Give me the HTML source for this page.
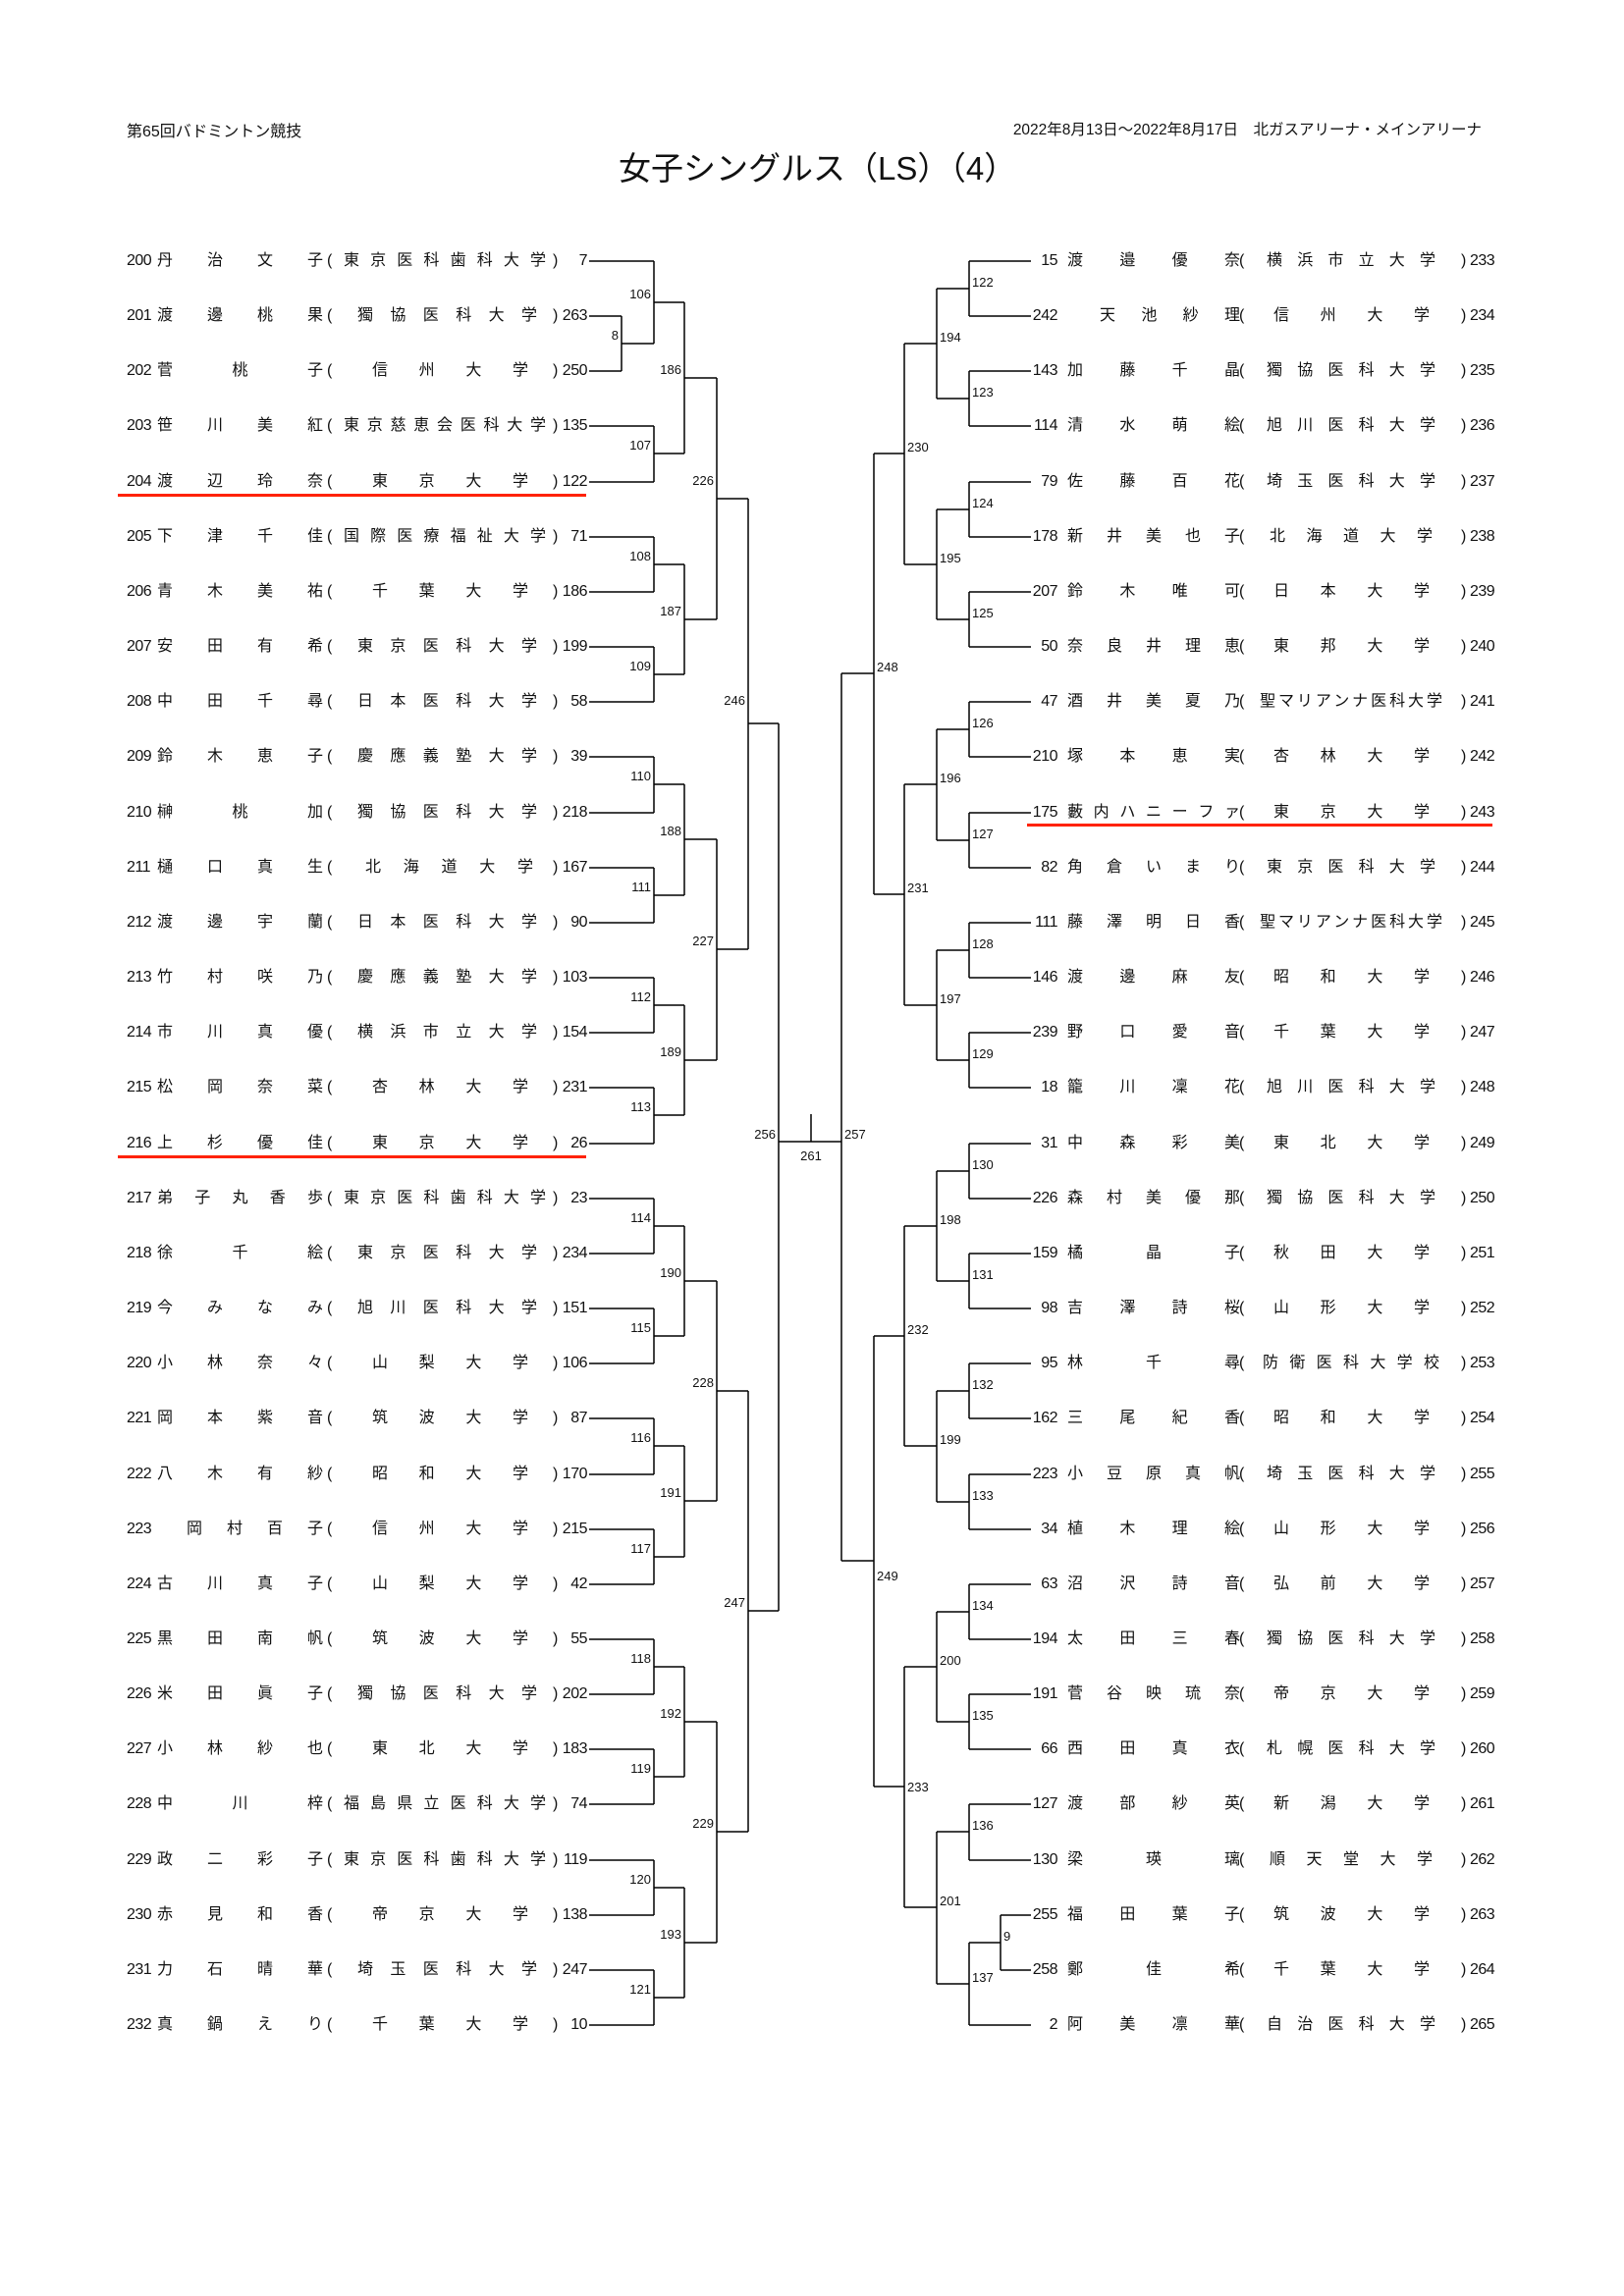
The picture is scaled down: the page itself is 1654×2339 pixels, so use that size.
<!DOCTYPE html>
<html><head><meta charset="utf-8">
<style>
html,body{margin:0;padding:0;background:#fff}
body{width:1654px;height:2339px;position:relative;overflow:hidden;font-family:"Liberation Sans","Noto Sans CJK JP",sans-serif;color:#111}
.r{position:absolute;left:0;width:1654px;height:20px;font-size:16px;line-height:20px}
.r b{position:absolute;top:0;font-weight:normal;display:block;white-space:nowrap}
.a{left:129px}
.n,.N{text-align:justify;text-align-last:justify;white-space:normal!important}
.n{left:160px;width:169px}
.o{left:333px}
.s,.S{text-align:justify;text-align-last:justify;white-space:normal!important;box-sizing:border-box}
.s{left:350px;width:206px}
.c{left:563px}
.d{left:560px;width:38px;text-align:right;letter-spacing:-0.5px}
.a,.A{letter-spacing:-0.5px}
.s.q4{padding:0 18px 0 29px}.s.q5{padding:0 13px 0 22px}.s.q6{padding:0 9px 0 14px}.s.q7{padding:0 4px 0 7px}
.A{left:1037px;width:40px;text-align:right}
.N{left:1087px;width:176px}
.O{left:1262px}
.S{left:1283px;width:186px}
.S.q4{padding:0 13px 0 14px}.S.q5{padding:0 10px 0 10px}.S.q6{padding:0 7px 0 7px}.S.q7{padding:0 3px 0 3px}
.C{left:1488px}
.D{left:1497px;letter-spacing:-0.5px}
.h1{position:absolute;left:129px;top:120px;font-size:16px}
.h2{position:absolute;left:907px;top:120px;font-size:15.5px;width:602px;text-align:right;white-space:nowrap}
.t{position:absolute;left:630px;top:145px;font-size:33px;white-space:nowrap}
.red{position:absolute;height:3px;background:#ff2200}
</style></head><body>
<div class="h1">第65回バドミントン競技</div>
<div class="h2">2022年8月13日～2022年8月17日　北ガスアリーナ・メインアリーナ</div>
<div class="t">女子シングルス（LS）（4）</div>

<svg width="1654" height="2339" style="position:absolute;left:0;top:0" xmlns="http://www.w3.org/2000/svg">
<g stroke="#000" stroke-width="1.5" fill="none">
<path d="M600 266H666 M600 322H633 M600 378H633 M600 434H666 M600 491H666 M600 547H666 M600 603H666 M600 659H666 M600 715H666 M600 771H666 M600 828H666 M600 884H666 M600 940H666 M600 996H666 M600 1052H666 M600 1108H666 M600 1165H666 M600 1221H666 M600 1277H666 M600 1333H666 M600 1389H666 M600 1445H666 M600 1502H666 M600 1558H666 M600 1614H666 M600 1670H666 M600 1726H666 M600 1782H666 M600 1838H666 M600 1895H666 M600 1951H666 M600 2007H666 M600 2063H666"/>
<path d="M633 322V378 M633 350H666 M666 266V350 M666 308H697
M666 434V491 M666 462H697 M666 547V603 M666 575H697 M666 659V715 M666 687H697 M666 771V828 M666 799H697 M666 884V940 M666 912H697 M666 996V1052 M666 1024H697 M666 1108V1165 M666 1136H697 M666 1221V1277 M666 1249H697 M666 1333V1389 M666 1361H697 M666 1445V1502 M666 1473H697 M666 1558V1614 M666 1586H697 M666 1670V1726 M666 1698H697 M666 1782V1838 M666 1810H697 M666 1895V1951 M666 1923H697 M666 2007V2063 M666 2035H697
M697 308V462 M697 385H730 M697 575V687 M697 631H730 M697 799V912 M697 855H730 M697 1024V1136 M697 1080H730 M697 1249V1361 M697 1305H730 M697 1473V1586 M697 1529H730 M697 1698V1810 M697 1754H730 M697 1923V2035 M697 1979H730
M730 385V631 M730 508H762 M730 855V1080 M730 967H762 M730 1305V1529 M730 1417H762 M730 1754V1979 M730 1866H762
M762 508V967 M762 737H793 M762 1417V1866 M762 1641H793
M793 737V1641 M793 1163H857 M826 1135V1163 M857 686V1590"/>
<path d="M1050 266H987 M1050 322H987 M1050 378H987 M1050 434H987 M1050 491H987 M1050 547H987 M1050 603H987 M1050 659H987 M1050 715H987 M1050 771H987 M1050 828H987 M1050 884H987 M1050 940H987 M1050 996H987 M1050 1052H987 M1050 1108H987 M1050 1165H987 M1050 1221H987 M1050 1277H987 M1050 1333H987 M1050 1389H987 M1050 1445H987 M1050 1502H987 M1050 1558H987 M1050 1614H987 M1050 1670H987 M1050 1726H987 M1050 1782H987 M1050 1838H987 M1050 1895H987 M1050 1951H1019 M1050 2007H1019 M1050 2063H987
M1019 1951V2007 M1019 1979H987
M987 266V322 M987 294H954 M987 378V434 M987 406H954 M987 491V547 M987 519H954 M987 603V659 M987 631H954 M987 715V771 M987 743H954 M987 828V884 M987 856H954 M987 940V996 M987 968H954 M987 1052V1108 M987 1080H954 M987 1165V1221 M987 1193H954 M987 1277V1333 M987 1305H954 M987 1389V1445 M987 1417H954 M987 1502V1558 M987 1530H954 M987 1614V1670 M987 1642H954 M987 1726V1782 M987 1754H954 M987 1838V1895 M987 1866H954 M987 1979V2063 M987 2021H954
M954 294V406 M954 350H921 M954 519V631 M954 575H921 M954 743V856 M954 799H921 M954 968V1080 M954 1024H921 M954 1193V1305 M954 1249H921 M954 1417V1530 M954 1473H921 M954 1642V1754 M954 1698H921 M954 1866V2021 M954 1943H921
M921 350V575 M921 462H890 M921 799V1024 M921 911H890 M921 1249V1473 M921 1361H890 M921 1698V1943 M921 1820H890
M890 462V911 M890 686H857 M890 1361V1820 M890 1590H857"/>
</g>
<g font-family="Liberation Sans, sans-serif" font-size="13" fill="#111" text-anchor="end">
<text x="630" y="346">8</text><text x="663" y="304">106</text><text x="663" y="458">107</text><text x="663" y="571">108</text><text x="663" y="683">109</text><text x="663" y="795">110</text><text x="663" y="908">111</text><text x="663" y="1020">112</text><text x="663" y="1132">113</text><text x="663" y="1245">114</text><text x="663" y="1357">115</text><text x="663" y="1469">116</text><text x="663" y="1582">117</text><text x="663" y="1694">118</text><text x="663" y="1806">119</text><text x="663" y="1919">120</text><text x="663" y="2031">121</text>
<text x="694" y="381">186</text><text x="694" y="627">187</text><text x="694" y="851">188</text><text x="694" y="1076">189</text><text x="694" y="1301">190</text><text x="694" y="1525">191</text><text x="694" y="1750">192</text><text x="694" y="1975">193</text>
<text x="727" y="494">226</text><text x="727" y="963">227</text><text x="727" y="1413">228</text><text x="727" y="1862">229</text>
<text x="759" y="718">246</text><text x="759" y="1637">247</text>
<text x="790" y="1160">256</text>
</g>
<g font-family="Liberation Sans, sans-serif" font-size="13" fill="#111" text-anchor="start">
<text x="860" y="1160">257</text>
<text x="990" y="292">122</text><text x="990" y="404">123</text><text x="990" y="517">124</text><text x="990" y="629">125</text><text x="990" y="741">126</text><text x="990" y="854">127</text><text x="990" y="966">128</text><text x="990" y="1078">129</text><text x="990" y="1191">130</text><text x="990" y="1303">131</text><text x="990" y="1415">132</text><text x="990" y="1528">133</text><text x="990" y="1640">134</text><text x="990" y="1752">135</text><text x="990" y="1864">136</text><text x="990" y="2019">137</text><text x="1022" y="1977">9</text>
<text x="957" y="348">194</text><text x="957" y="573">195</text><text x="957" y="797">196</text><text x="957" y="1022">197</text><text x="957" y="1247">198</text><text x="957" y="1471">199</text><text x="957" y="1696">200</text><text x="957" y="1941">201</text>
<text x="924" y="460">230</text><text x="924" y="909">231</text><text x="924" y="1359">232</text><text x="924" y="1825">233</text>
<text x="893" y="684">248</text><text x="893" y="1610">249</text>
</g>
<text x="826" y="1182" font-family="Liberation Sans, sans-serif" font-size="13" fill="#111" text-anchor="middle">261</text>
</svg>

<div class="red" style="left:120px;top:503px;width:477px"></div>
<div class="red" style="left:120px;top:1177px;width:477px"></div>
<div class="red" style="left:1046px;top:839px;width:474px"></div>

<div class="r" style="top:256px"><b class="a">200</b><b class="n">丹 治 文 子</b><b class="o">(</b><b class="s">東 京 医 科 歯 科 大 学</b><b class="c">)</b><b class="d">7</b></div>
<div class="r" style="top:312px"><b class="a">201</b><b class="n">渡 邊 桃 果</b><b class="o">(</b><b class="s q6">獨 協 医 科 大 学</b><b class="c">)</b><b class="d">263</b></div>
<div class="r" style="top:368px"><b class="a">202</b><b class="n">菅 桃 子</b><b class="o">(</b><b class="s q4">信 州 大 学</b><b class="c">)</b><b class="d">250</b></div>
<div class="r" style="top:424px"><b class="a">203</b><b class="n">笹 川 美 紅</b><b class="o">(</b><b class="s">東 京 慈 恵 会 医 科 大 学</b><b class="c">)</b><b class="d">135</b></div>
<div class="r" style="top:481px"><b class="a">204</b><b class="n">渡 辺 玲 奈</b><b class="o">(</b><b class="s q4">東 京 大 学</b><b class="c">)</b><b class="d">122</b></div>
<div class="r" style="top:537px"><b class="a">205</b><b class="n">下 津 千 佳</b><b class="o">(</b><b class="s">国 際 医 療 福 祉 大 学</b><b class="c">)</b><b class="d">71</b></div>
<div class="r" style="top:593px"><b class="a">206</b><b class="n">青 木 美 祐</b><b class="o">(</b><b class="s q4">千 葉 大 学</b><b class="c">)</b><b class="d">186</b></div>
<div class="r" style="top:649px"><b class="a">207</b><b class="n">安 田 有 希</b><b class="o">(</b><b class="s q6">東 京 医 科 大 学</b><b class="c">)</b><b class="d">199</b></div>
<div class="r" style="top:705px"><b class="a">208</b><b class="n">中 田 千 尋</b><b class="o">(</b><b class="s q6">日 本 医 科 大 学</b><b class="c">)</b><b class="d">58</b></div>
<div class="r" style="top:761px"><b class="a">209</b><b class="n">鈴 木 恵 子</b><b class="o">(</b><b class="s q6">慶 應 義 塾 大 学</b><b class="c">)</b><b class="d">39</b></div>
<div class="r" style="top:818px"><b class="a">210</b><b class="n">榊 桃 加</b><b class="o">(</b><b class="s q6">獨 協 医 科 大 学</b><b class="c">)</b><b class="d">218</b></div>
<div class="r" style="top:874px"><b class="a">211</b><b class="n">樋 口 真 生</b><b class="o">(</b><b class="s q5">北 海 道 大 学</b><b class="c">)</b><b class="d">167</b></div>
<div class="r" style="top:930px"><b class="a">212</b><b class="n">渡 邊 宇 蘭</b><b class="o">(</b><b class="s q6">日 本 医 科 大 学</b><b class="c">)</b><b class="d">90</b></div>
<div class="r" style="top:986px"><b class="a">213</b><b class="n">竹 村 咲 乃</b><b class="o">(</b><b class="s q6">慶 應 義 塾 大 学</b><b class="c">)</b><b class="d">103</b></div>
<div class="r" style="top:1042px"><b class="a">214</b><b class="n">市 川 真 優</b><b class="o">(</b><b class="s q6">横 浜 市 立 大 学</b><b class="c">)</b><b class="d">154</b></div>
<div class="r" style="top:1098px"><b class="a">215</b><b class="n">松 岡 奈 菜</b><b class="o">(</b><b class="s q4">杏 林 大 学</b><b class="c">)</b><b class="d">231</b></div>
<div class="r" style="top:1155px"><b class="a">216</b><b class="n">上 杉 優 佳</b><b class="o">(</b><b class="s q4">東 京 大 学</b><b class="c">)</b><b class="d">26</b></div>
<div class="r" style="top:1211px"><b class="a">217</b><b class="n">弟 子 丸 香 歩</b><b class="o">(</b><b class="s">東 京 医 科 歯 科 大 学</b><b class="c">)</b><b class="d">23</b></div>
<div class="r" style="top:1267px"><b class="a">218</b><b class="n">徐 千 絵</b><b class="o">(</b><b class="s q6">東 京 医 科 大 学</b><b class="c">)</b><b class="d">234</b></div>
<div class="r" style="top:1323px"><b class="a">219</b><b class="n">今 み な み</b><b class="o">(</b><b class="s q6">旭 川 医 科 大 学</b><b class="c">)</b><b class="d">151</b></div>
<div class="r" style="top:1379px"><b class="a">220</b><b class="n">小 林 奈 々</b><b class="o">(</b><b class="s q4">山 梨 大 学</b><b class="c">)</b><b class="d">106</b></div>
<div class="r" style="top:1435px"><b class="a">221</b><b class="n">岡 本 紫 音</b><b class="o">(</b><b class="s q4">筑 波 大 学</b><b class="c">)</b><b class="d">87</b></div>
<div class="r" style="top:1492px"><b class="a">222</b><b class="n">八 木 有 紗</b><b class="o">(</b><b class="s q4">昭 和 大 学</b><b class="c">)</b><b class="d">170</b></div>
<div class="r" style="top:1548px"><b class="a">223</b><b class="n" style="left:190px;width:139px">岡 村 百 子</b><b class="o">(</b><b class="s q4">信 州 大 学</b><b class="c">)</b><b class="d">215</b></div>
<div class="r" style="top:1604px"><b class="a">224</b><b class="n">古 川 真 子</b><b class="o">(</b><b class="s q4">山 梨 大 学</b><b class="c">)</b><b class="d">42</b></div>
<div class="r" style="top:1660px"><b class="a">225</b><b class="n">黒 田 南 帆</b><b class="o">(</b><b class="s q4">筑 波 大 学</b><b class="c">)</b><b class="d">55</b></div>
<div class="r" style="top:1716px"><b class="a">226</b><b class="n">米 田 眞 子</b><b class="o">(</b><b class="s q6">獨 協 医 科 大 学</b><b class="c">)</b><b class="d">202</b></div>
<div class="r" style="top:1772px"><b class="a">227</b><b class="n">小 林 紗 也</b><b class="o">(</b><b class="s q4">東 北 大 学</b><b class="c">)</b><b class="d">183</b></div>
<div class="r" style="top:1828px"><b class="a">228</b><b class="n">中 川 梓</b><b class="o">(</b><b class="s">福 島 県 立 医 科 大 学</b><b class="c">)</b><b class="d">74</b></div>
<div class="r" style="top:1885px"><b class="a">229</b><b class="n">政 二 彩 子</b><b class="o">(</b><b class="s">東 京 医 科 歯 科 大 学</b><b class="c">)</b><b class="d">119</b></div>
<div class="r" style="top:1941px"><b class="a">230</b><b class="n">赤 見 和 香</b><b class="o">(</b><b class="s q4">帝 京 大 学</b><b class="c">)</b><b class="d">138</b></div>
<div class="r" style="top:1997px"><b class="a">231</b><b class="n">力 石 晴 華</b><b class="o">(</b><b class="s q6">埼 玉 医 科 大 学</b><b class="c">)</b><b class="d">247</b></div>
<div class="r" style="top:2053px"><b class="a">232</b><b class="n">真 鍋 え り</b><b class="o">(</b><b class="s q4">千 葉 大 学</b><b class="c">)</b><b class="d">10</b></div>

<div class="r" style="top:256px"><b class="A">15</b><b class="N">渡 邉 優 奈</b><b class="O">(</b><b class="S q6">横 浜 市 立 大 学</b><b class="C">)</b><b class="D">233</b></div>
<div class="r" style="top:312px"><b class="A">242</b><b class="N" style="left:1120px;width:143px">天 池 紗 理</b><b class="O">(</b><b class="S q4">信 州 大 学</b><b class="C">)</b><b class="D">234</b></div>
<div class="r" style="top:368px"><b class="A">143</b><b class="N">加 藤 千 晶</b><b class="O">(</b><b class="S q6">獨 協 医 科 大 学</b><b class="C">)</b><b class="D">235</b></div>
<div class="r" style="top:424px"><b class="A">114</b><b class="N">清 水 萌 絵</b><b class="O">(</b><b class="S q6">旭 川 医 科 大 学</b><b class="C">)</b><b class="D">236</b></div>
<div class="r" style="top:481px"><b class="A">79</b><b class="N">佐 藤 百 花</b><b class="O">(</b><b class="S q6">埼 玉 医 科 大 学</b><b class="C">)</b><b class="D">237</b></div>
<div class="r" style="top:537px"><b class="A">178</b><b class="N">新 井 美 也 子</b><b class="O">(</b><b class="S q5">北 海 道 大 学</b><b class="C">)</b><b class="D">238</b></div>
<div class="r" style="top:593px"><b class="A">207</b><b class="N">鈴 木 唯 可</b><b class="O">(</b><b class="S q4">日 本 大 学</b><b class="C">)</b><b class="D">239</b></div>
<div class="r" style="top:649px"><b class="A">50</b><b class="N">奈 良 井 理 恵</b><b class="O">(</b><b class="S q4">東 邦 大 学</b><b class="C">)</b><b class="D">240</b></div>
<div class="r" style="top:705px"><b class="A">47</b><b class="N">酒 井 美 夏 乃</b><b class="O">(</b><b class="S">聖マリアンナ医科大学</b><b class="C">)</b><b class="D">241</b></div>
<div class="r" style="top:761px"><b class="A">210</b><b class="N">塚 本 恵 実</b><b class="O">(</b><b class="S q4">杏 林 大 学</b><b class="C">)</b><b class="D">242</b></div>
<div class="r" style="top:818px"><b class="A">175</b><b class="N">藪 内 ハ ニ ー フ ァ</b><b class="O">(</b><b class="S q4">東 京 大 学</b><b class="C">)</b><b class="D">243</b></div>
<div class="r" style="top:874px"><b class="A">82</b><b class="N">角 倉 い ま り</b><b class="O">(</b><b class="S q6">東 京 医 科 大 学</b><b class="C">)</b><b class="D">244</b></div>
<div class="r" style="top:930px"><b class="A">111</b><b class="N">藤 澤 明 日 香</b><b class="O">(</b><b class="S">聖マリアンナ医科大学</b><b class="C">)</b><b class="D">245</b></div>
<div class="r" style="top:986px"><b class="A">146</b><b class="N">渡 邊 麻 友</b><b class="O">(</b><b class="S q4">昭 和 大 学</b><b class="C">)</b><b class="D">246</b></div>
<div class="r" style="top:1042px"><b class="A">239</b><b class="N">野 口 愛 音</b><b class="O">(</b><b class="S q4">千 葉 大 学</b><b class="C">)</b><b class="D">247</b></div>
<div class="r" style="top:1098px"><b class="A">18</b><b class="N">籠 川 凜 花</b><b class="O">(</b><b class="S q6">旭 川 医 科 大 学</b><b class="C">)</b><b class="D">248</b></div>
<div class="r" style="top:1155px"><b class="A">31</b><b class="N">中 森 彩 美</b><b class="O">(</b><b class="S q4">東 北 大 学</b><b class="C">)</b><b class="D">249</b></div>
<div class="r" style="top:1211px"><b class="A">226</b><b class="N">森 村 美 優 那</b><b class="O">(</b><b class="S q6">獨 協 医 科 大 学</b><b class="C">)</b><b class="D">250</b></div>
<div class="r" style="top:1267px"><b class="A">159</b><b class="N">橘 晶 子</b><b class="O">(</b><b class="S q4">秋 田 大 学</b><b class="C">)</b><b class="D">251</b></div>
<div class="r" style="top:1323px"><b class="A">98</b><b class="N">吉 澤 詩 桜</b><b class="O">(</b><b class="S q4">山 形 大 学</b><b class="C">)</b><b class="D">252</b></div>
<div class="r" style="top:1379px"><b class="A">95</b><b class="N">林 千 尋</b><b class="O">(</b><b class="S q7">防 衛 医 科 大 学 校</b><b class="C">)</b><b class="D">253</b></div>
<div class="r" style="top:1435px"><b class="A">162</b><b class="N">三 尾 紀 香</b><b class="O">(</b><b class="S q4">昭 和 大 学</b><b class="C">)</b><b class="D">254</b></div>
<div class="r" style="top:1492px"><b class="A">223</b><b class="N">小 豆 原 真 帆</b><b class="O">(</b><b class="S q6">埼 玉 医 科 大 学</b><b class="C">)</b><b class="D">255</b></div>
<div class="r" style="top:1548px"><b class="A">34</b><b class="N">植 木 理 絵</b><b class="O">(</b><b class="S q4">山 形 大 学</b><b class="C">)</b><b class="D">256</b></div>
<div class="r" style="top:1604px"><b class="A">63</b><b class="N">沼 沢 詩 音</b><b class="O">(</b><b class="S q4">弘 前 大 学</b><b class="C">)</b><b class="D">257</b></div>
<div class="r" style="top:1660px"><b class="A">194</b><b class="N">太 田 三 春</b><b class="O">(</b><b class="S q6">獨 協 医 科 大 学</b><b class="C">)</b><b class="D">258</b></div>
<div class="r" style="top:1716px"><b class="A">191</b><b class="N">菅 谷 映 琉 奈</b><b class="O">(</b><b class="S q4">帝 京 大 学</b><b class="C">)</b><b class="D">259</b></div>
<div class="r" style="top:1772px"><b class="A">66</b><b class="N">西 田 真 衣</b><b class="O">(</b><b class="S q6">札 幌 医 科 大 学</b><b class="C">)</b><b class="D">260</b></div>
<div class="r" style="top:1828px"><b class="A">127</b><b class="N">渡 部 紗 英</b><b class="O">(</b><b class="S q4">新 潟 大 学</b><b class="C">)</b><b class="D">261</b></div>
<div class="r" style="top:1885px"><b class="A">130</b><b class="N">梁 瑛 璃</b><b class="O">(</b><b class="S q5">順 天 堂 大 学</b><b class="C">)</b><b class="D">262</b></div>
<div class="r" style="top:1941px"><b class="A">255</b><b class="N">福 田 葉 子</b><b class="O">(</b><b class="S q4">筑 波 大 学</b><b class="C">)</b><b class="D">263</b></div>
<div class="r" style="top:1997px"><b class="A">258</b><b class="N">鄭 佳 希</b><b class="O">(</b><b class="S q4">千 葉 大 学</b><b class="C">)</b><b class="D">264</b></div>
<div class="r" style="top:2053px"><b class="A">2</b><b class="N">阿 美 凛 華</b><b class="O">(</b><b class="S q6">自 治 医 科 大 学</b><b class="C">)</b><b class="D">265</b></div>
</body></html>
